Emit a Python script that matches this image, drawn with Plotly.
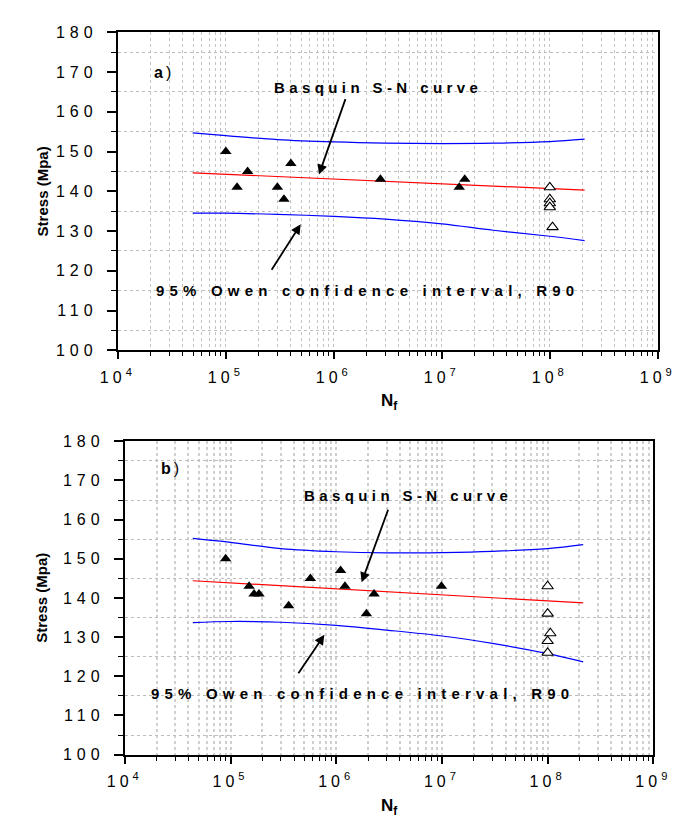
import plotly.graph_objects as go
import math

# ---------------- data ----------------
# Panel a
a_fail_N = [1.0e5, 1.27e5, 1.59e5, 3.0e5, 3.45e5, 4.0e5, 2.7e6, 1.45e7, 1.63e7]
a_fail_S = [150, 141, 145, 141, 138, 147, 143, 141, 143]
a_run_N = [1.0e8, 1.0e8, 1.0e8, 1.0e8, 1.06e8]
a_run_S = [141, 138, 137, 136, 131]
a_curve_N = [4.93e4, 1e5, 3e5, 1e6, 3e6, 1e7, 3e7, 1e8, 2.1e8]
a_upper = [154.7, 154.0, 153.0, 152.4, 152.1, 152.0, 152.1, 152.5, 153.1]
a_lower = [134.5, 134.5, 134.2, 133.7, 133.0, 131.8, 130.2, 128.7, 127.6]
a_basq_N = [4.93e4, 2.1e8]
a_basq_S = [144.65, 140.3]

# Panel b
b_fail_N = [9.0e4, 1.5e5, 1.67e5, 1.86e5, 3.55e5, 5.7e5, 1.1e6, 1.21e6, 1.93e6, 2.28e6, 9.9e6]
b_fail_S = [150, 143, 141, 141, 138, 145, 147, 143, 136, 141, 143]
b_run_N = [1.0e8, 1.0e8, 1.06e8, 1.0e8, 1.0e8]
b_run_S = [143, 136, 131, 129, 126]
b_curve_N = [4.4e4, 1e5, 3e5, 1e6, 3e6, 1e7, 3e7, 1e8, 2.17e8]
b_upper = [155.2, 154.2, 152.6, 151.8, 151.5, 151.6, 151.9, 152.6, 153.6]
b_lower = [133.7, 134.0, 133.8, 133.0, 131.8, 130.3, 128.4, 125.8, 123.7]
b_basq_N = [4.4e4, 2.17e8]
b_basq_S = [144.4, 138.75]

y_ticks = [100, 110, 120, 130, 140, 150, 160, 170, 180]
y_minor = [105, 115, 125, 135, 145, 155, 165, 175]
x_exps = [4, 5, 6, 7, 8, 9]

# ---------------- figure ----------------
W, H = 682, 820
FONT = "Liberation Sans, Arial, sans-serif"
ls = lambda s, px: f'<span style="letter-spacing:{px}px">{s}</span>'

fig = go.Figure()

def add_panel(fig, xa, ya, fN, fS, rN, rS, cN, up, lo, bN, bS):
    fig.add_trace(go.Scatter(x=cN, y=up, mode="lines", line=dict(color="#0000ff", width=1.2, shape="spline"),
                             xaxis=xa, yaxis=ya, showlegend=False))
    fig.add_trace(go.Scatter(x=cN, y=lo, mode="lines", line=dict(color="#0000ff", width=1.2, shape="spline"),
                             xaxis=xa, yaxis=ya, showlegend=False))
    fig.add_trace(go.Scatter(x=bN, y=bS, mode="lines", line=dict(color="#ff0000", width=1.2),
                             xaxis=xa, yaxis=ya, showlegend=False))
    fig.add_trace(go.Scatter(x=fN, y=fS, mode="markers",
                             marker=dict(symbol="triangle-up", size=10, color="black"),
                             xaxis=xa, yaxis=ya, showlegend=False))
    fig.add_trace(go.Scatter(x=rN, y=rS, mode="markers",
                             marker=dict(symbol="triangle-up", size=10, color="white",
                                         line=dict(color="black", width=1.1)),
                             xaxis=xa, yaxis=ya, showlegend=False))

add_panel(fig, "x", "y", a_fail_N, a_fail_S, a_run_N, a_run_S, a_curve_N, a_upper, a_lower, a_basq_N, a_basq_S)
add_panel(fig, "x2", "y2", b_fail_N, b_fail_S, b_run_N, b_run_S, b_curve_N, b_upper, b_lower, b_basq_N, b_basq_S)

x_minor = [k * 10 ** d for d in range(4, 9) for k in range(2, 10)]

def xaxis(dom, anchor, gridcolor, gridwidth):
    return dict(type="log", range=[4, 9], domain=dom, anchor=anchor,
                tickmode="array", tickvals=[10 ** e for e in x_exps],
                ticktext=[ls(f"10<sup>{e}</sup>", 4) for e in x_exps],
                ticks="outside", ticklen=7, tickwidth=1.5, tickcolor="black",
                ticklabelstandoff=4,
                tickfont=dict(family=FONT, size=16, color="black"),
                showline=True, linecolor="black", linewidth=2, mirror=True,
                showgrid=True, gridcolor=gridcolor, gridwidth=gridwidth, griddash="dot",
                minor=dict(tickmode="array", tickvals=x_minor, ticks="outside", ticklen=4,
                           tickwidth=1.2, tickcolor="black", showgrid=True,
                           gridcolor=gridcolor, gridwidth=gridwidth, griddash="dot"),
                zeroline=False)

def yaxis(dom, anchor):
    return dict(range=[100, 180], domain=dom, anchor=anchor,
                tickmode="array", tickvals=y_ticks,
                ticktext=[ls(str(v), 5) for v in y_ticks],
                ticks="outside", ticklen=9, tickwidth=1.5, tickcolor="black",
                ticklabelstandoff=6,
                tickfont=dict(family=FONT, size=16, color="black"),
                showline=True, linecolor="black", linewidth=2, mirror=True,
                showgrid=False,
                minor=dict(tickmode="array", tickvals=y_minor, ticks="outside", ticklen=5,
                           tickwidth=1.2, tickcolor="black", showgrid=True,
                           gridcolor="#bdbdbd", gridwidth=1, griddash="dot"),
                zeroline=False)

fig.update_layout(
    width=W, height=H, margin=dict(l=0, r=0, t=0, b=0),
    paper_bgcolor="white", plot_bgcolor="white",
    xaxis=xaxis([97 / W, 667 / W], "y", "#c4c4c4", 1),
    yaxis=yaxis([1 - 341.5 / H, 1 - 16.5 / H], "x"),
    xaxis2=xaxis([104.3 / W, 662.3 / W], "y2", "#cfcfcf", 1.6),
    yaxis2=yaxis([1 - 754.3 / H, 1 - 434.3 / H], "x2"),
)

def txt(x, y, text, size=15, xanchor="center", angle=0):
    return dict(xref="paper", yref="paper", x=x / W, y=1 - y / H, text=text, showarrow=False,
                xanchor=xanchor, yanchor="middle", textangle=angle,
                font=dict(family=FONT, size=size, color="black"))

def arrow(xa, ya, x, y, ax, ay):
    return dict(xref=xa, yref=ya, x=x, y=y, ax=ax, ay=ay, axref="pixel", ayref="pixel",
                showarrow=True, arrowhead=2, arrowsize=1.1, arrowwidth=1.8,
                arrowcolor="black", standoff=0, text="")

anns = [
    txt(133, 58, ls("<b>a</b>)", 3), 16, "left"),
    txt(140, 462, ls("<b>b</b>)", 3), 16, "left"),
    txt(372, 73, ls("<b>Basquin S-N curve</b>", 4.4), 15),
    txt(135, 280, ls("<b>95% Owen confidence interval, R90</b>", 5.2), 15, "left"),
    txt(403, 490, ls("<b>Basquin S-N curve</b>", 4.4), 15),
    txt(130, 692, ls("<b>95% Owen confidence interval, R90</b>", 5.2), 15, "left"),
    txt(17, 179, "<b>Stress (Mpa)</b>", 15, "center", -90),
    txt(17, 594, "<b>Stress (Mpa)</b>", 15, "center", -90),
    txt(383, 394, "<b>N</b><sub><b>f</b></sub>", 17),
    txt(383, 808, "<b>N</b><sub><b>f</b></sub>", 17),
    arrow("x", "y", math.log10(7.28e5), 144.2, 27, -77),
    arrow("x", "y", math.log10(4.93e5), 131.7, -30, 47),
    arrow("x2", "y2", math.log10(1.74e6), 144.0, 27, -74),
    arrow("x2", "y2", math.log10(7.73e5), 130.6, -27, 40),
]
fig.update_layout(annotations=anns)

fig.write_html("out.html")
